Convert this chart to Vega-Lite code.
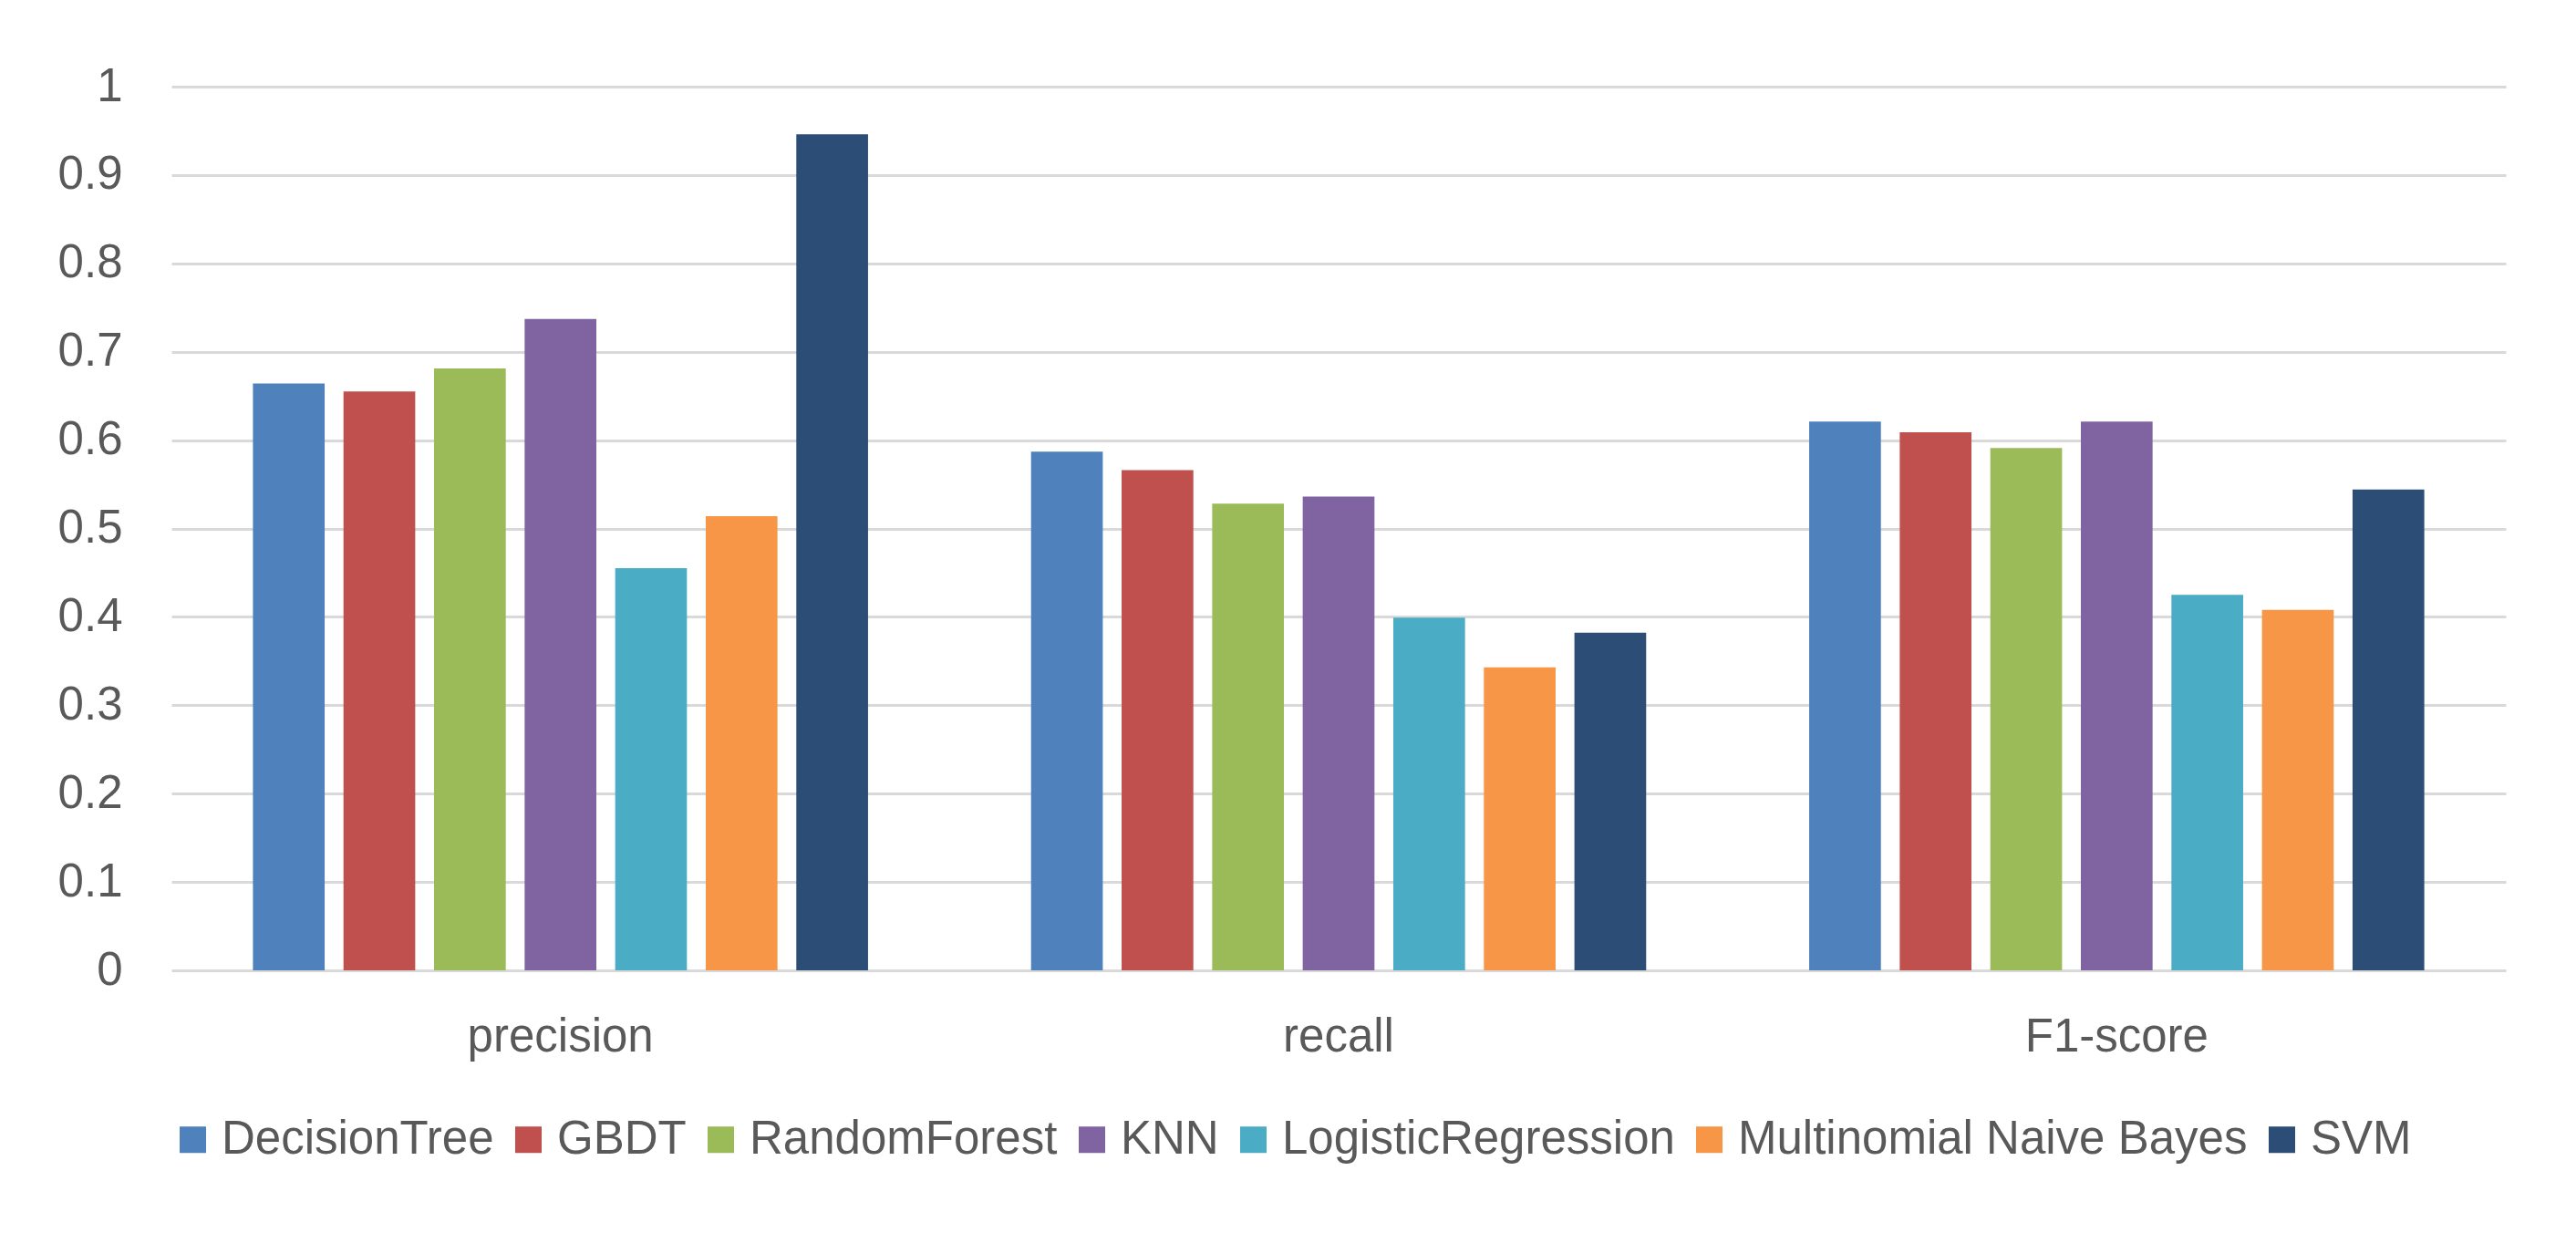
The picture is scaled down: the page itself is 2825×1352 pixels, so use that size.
{
  "$schema": "https://vega.github.io/schema/vega-lite/v6.json",
  "width": 2560,
  "height": 969,
  "autosize": {"type": "none"},
  "padding": {"left": 188, "top": 95, "right": 77, "bottom": 288},
  "background": "white",
  "config": {"view": {"stroke": null}, "font": "Liberation Sans"},
  "data": {
    "values": [
      {"metric": "precision", "model": "DecisionTree", "value": 0.664},
      {"metric": "precision", "model": "GBDT", "value": 0.655},
      {"metric": "precision", "model": "RandomForest", "value": 0.681},
      {"metric": "precision", "model": "KNN", "value": 0.737},
      {"metric": "precision", "model": "LogisticRegression", "value": 0.455},
      {"metric": "precision", "model": "Multinomial Naive Bayes", "value": 0.514},
      {"metric": "precision", "model": "SVM", "value": 0.946},
      {"metric": "recall", "model": "DecisionTree", "value": 0.587},
      {"metric": "recall", "model": "GBDT", "value": 0.566},
      {"metric": "recall", "model": "RandomForest", "value": 0.528},
      {"metric": "recall", "model": "KNN", "value": 0.536},
      {"metric": "recall", "model": "LogisticRegression", "value": 0.399},
      {"metric": "recall", "model": "Multinomial Naive Bayes", "value": 0.343},
      {"metric": "recall", "model": "SVM", "value": 0.382},
      {"metric": "F1-score", "model": "DecisionTree", "value": 0.621},
      {"metric": "F1-score", "model": "GBDT", "value": 0.609},
      {"metric": "F1-score", "model": "RandomForest", "value": 0.591},
      {"metric": "F1-score", "model": "KNN", "value": 0.621},
      {"metric": "F1-score", "model": "LogisticRegression", "value": 0.425},
      {"metric": "F1-score", "model": "Multinomial Naive Bayes", "value": 0.408},
      {"metric": "F1-score", "model": "SVM", "value": 0.544}
    ]
  },
  "mark": {"type": "bar"},
  "encoding": {
    "x": {
      "field": "metric",
      "type": "nominal",
      "sort": ["precision", "recall", "F1-score"],
      "scale": {"paddingInner": 0, "paddingOuter": 0},
      "axis": {
        "title": null,
        "domain": false,
        "ticks": false,
        "grid": false,
        "labelAngle": 0,
        "labelFontSize": 51,
        "labelColor": "#595959",
        "labelPadding": 48,
        "labelLimit": 2000
      }
    },
    "xOffset": {
      "field": "model",
      "type": "nominal",
      "sort": ["DecisionTree", "GBDT", "RandomForest", "KNN", "LogisticRegression", "Multinomial Naive Bayes", "SVM"],
      "scale": {"paddingInner": 0.208, "paddingOuter": 0.9}
    },
    "y": {
      "field": "value",
      "type": "quantitative",
      "scale": {"domain": [0, 1]},
      "axis": {
        "title": null,
        "values": [0, 0.1, 0.2, 0.3, 0.4, 0.5, 0.6, 0.7, 0.8, 0.9, 1],
        "format": "~g",
        "domain": false,
        "ticks": false,
        "labelFontSize": 51,
        "labelColor": "#595959",
        "labelPadding": 54,
        "gridColor": "#d9d9d9",
        "gridWidth": 3
      }
    },
    "color": {
      "field": "model",
      "type": "nominal",
      "scale": {
        "domain": ["DecisionTree", "GBDT", "RandomForest", "KNN", "LogisticRegression", "Multinomial Naive Bayes", "SVM"],
        "range": ["#4f81bd", "#c0504d", "#9bbb59", "#8064a2", "#4bacc6", "#f79646", "#2c4d75"]
      },
      "legend": {
        "title": null,
        "orient": "none",
        "legendX": -2,
        "legendY": 1129,
        "direction": "horizontal",
        "symbolType": "square",
        "symbolSize": 841,
        "symbolStrokeWidth": 0,
        "labelFontSize": 51,
        "labelColor": "#595959",
        "labelOffset": 6,
        "columnPadding": 12,
        "labelLimit": 2000
      }
    }
  }
}
